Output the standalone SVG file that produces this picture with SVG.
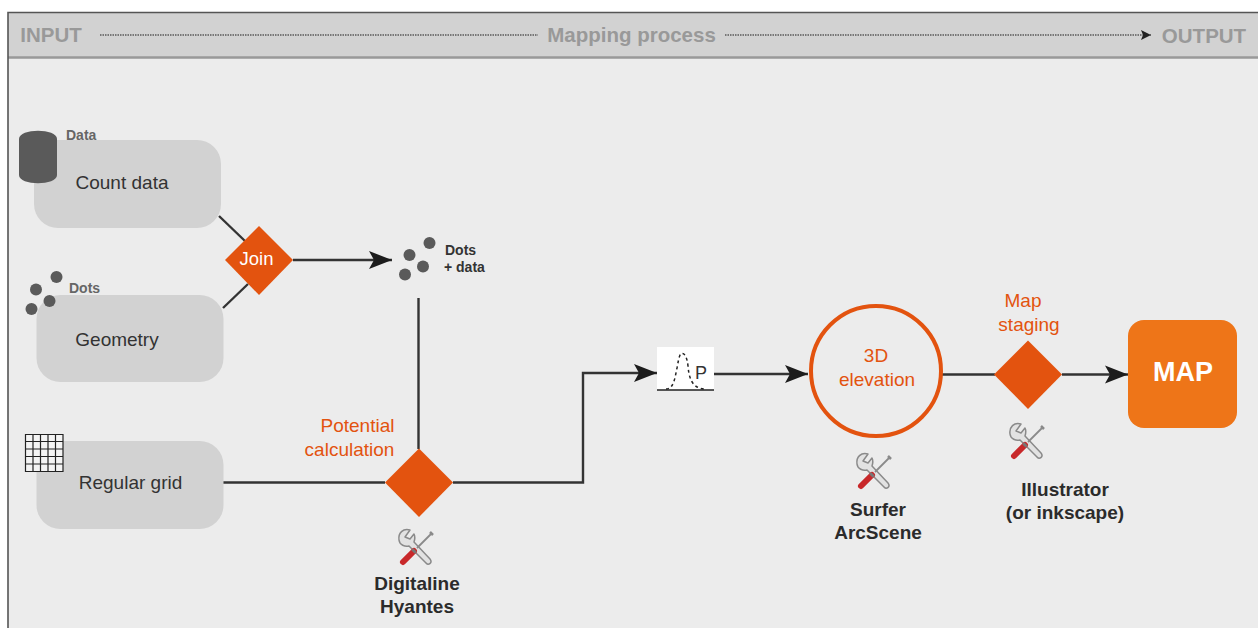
<svg xmlns="http://www.w3.org/2000/svg" width="1258" height="628" viewBox="0 0 1258 628">
<style>
text{font-family:"Liberation Sans",Arial,sans-serif}
.box{fill:#d2d2d2}
.lbl{font-size:19px;fill:#333;text-anchor:middle}
.hdr{font-size:20.500px;font-weight:bold;fill:#999;text-anchor:middle}
.or{font-size:19px;fill:#e3530f;text-anchor:middle}
.tool{font-size:19px;font-weight:bold;fill:#2b2b2b;text-anchor:middle}
.small{font-size:14px;font-weight:bold;fill:#666}
.dark{fill:#333}
.dia{fill:#e3530f}
.c{fill:none;stroke:#333;stroke-width:2.4}
.dot{fill:#5a5a5a}
.dash{fill:none;stroke:#777;stroke-width:2;stroke-dasharray:1.5 1}
</style>
<defs>
<marker id="a" markerUnits="userSpaceOnUse" markerWidth="26" markerHeight="22" refX="24" refY="11" orient="auto"><path d="M1 2L24 11L1 20L6 11Z" fill="#1c1c1c"/></marker>
<marker id="s" markerUnits="userSpaceOnUse" markerWidth="12" markerHeight="12" refX="11" refY="6" orient="auto"><path d="M1 1L11 6L1 11L3 6Z" fill="#222"/></marker>
<g id="tool">
<path d="M-6 -18C-13 -20 -18 -15 -17 -8C-16.500 -3 -11 -1 -7 -2L10 15C12 18 17 15 14 11L-2 -6C-1 -9 -1 -12 -2 -14L-6 -9L-11 -11Z" fill="#e2e2e2" stroke="#8a8a8a" stroke-width="1.500" stroke-linejoin="round"/>
<path d="M16 -15L1 0" stroke="#8a8a8a" stroke-width="1.800" fill="none"/>
<path d="M14 -16L17 -13" stroke="#8a8a8a" stroke-width="2.500" fill="none"/>
<path d="M-2 3L-13 14" stroke="#c8282a" stroke-width="6" stroke-linecap="round" fill="none"/>
<path d="M-1 2L-3 4" stroke="#777" stroke-width="5" fill="none"/>
</g>
</defs>
<rect width="1258" height="628" fill="#fff"/>
<rect x="8" y="12" width="1252" height="620" fill="#ececec"/>
<rect x="8" y="12" width="1252" height="45" fill="#d2d2d2"/>
<path d="M8 57.500H1258" stroke="#999" stroke-width="2.500"/>
<path d="M1258 12.500H8V628" fill="none" stroke="#555" stroke-width="1.600"/>
<g id="connectors">
<path class="dash" d="M100 35H538"/>
<path class="dash" d="M725 35H1151" marker-end="url(#s)"/>
<path class="c" d="M219 216L245 241"/>
<path class="c" d="M223 308L248 284"/>
<path class="c" d="M293 260H392" marker-end="url(#a)"/>
<path class="c" d="M418.500 298V449"/>
<path class="c" d="M223 482.500H385"/>
<path class="c" d="M453 482.500H583V373H657" marker-end="url(#a)"/>
<path class="c" d="M714 374H808" marker-end="url(#a)"/>
<path class="c" d="M942 374.500H995"/>
<path class="c" d="M1062 374.500H1128" marker-end="url(#a)"/>
</g>
<g id="header">
<text class="hdr" x="51" y="42">INPUT</text>
<text class="hdr" x="631.500" y="42">Mapping process</text>
<text class="hdr" x="1204" y="43">OUTPUT</text>
</g>
<g id="count-data">
<rect class="box" x="34" y="140" width="187" height="88" rx="24"/>
<text class="lbl" x="122" y="189">Count data</text>
<path d="M19 139C19 128 57 128 57 139V175C57 186 19 186 19 175Z" fill="#5a5a5a"/>
<text class="small" x="66" y="140">Data</text>
</g>
<g id="geometry">
<rect class="box" x="36.500" y="295" width="187" height="87" rx="24"/>
<text class="lbl" x="117" y="346">Geometry</text>
<circle class="dot" cx="56.500" cy="277" r="6"/><circle class="dot" cx="36" cy="289.500" r="6"/><circle class="dot" cx="49.500" cy="301" r="6"/><circle class="dot" cx="31.500" cy="309" r="6"/>
<text class="small" x="69" y="293">Dots</text>
</g>
<g id="regular-grid">
<rect class="box" x="36.500" y="441" width="187" height="88" rx="24"/>
<text class="lbl" x="130.500" y="489">Regular grid</text>
<path d="M25.500 434.500H63V471.500H25.500ZM25.500 441.500H63M25.500 449H63M25.500 456.500H63M25.500 464H63M33 434.500V471.500M40.500 434.500V471.500M48 434.500V471.500M55.500 434.500V471.500" fill="#f4f4f4" stroke="#222" stroke-width="1.200"/>
</g>
<g id="join">
<path class="dia" d="M259 226L293 260L259 295L225 260Z"/>
<text x="256.500" y="265" font-size="18.500" fill="#fff" text-anchor="middle">Join</text>
</g>
<g id="dots-data">
<circle class="dot" cx="429.500" cy="243" r="6"/><circle class="dot" cx="409.500" cy="255" r="6"/><circle class="dot" cx="423" cy="266.500" r="6"/><circle class="dot" cx="405" cy="274.500" r="6"/>
<text class="small dark" x="445" y="255">Dots</text>
<text class="small dark" x="444" y="272">+ data</text>
</g>
<g id="potential">
<path class="dia" d="M419 448.500L453 482.500L419 517L385 482.500Z"/>
<text class="or" x="357.500" y="432">Potential</text>
<text class="or" x="349.500" y="456">calculation</text>
<use href="#tool" x="416" y="548"/>
<text class="tool" x="417" y="590">Digitaline</text>
<text class="tool" x="417" y="613">Hyantes</text>
</g>
<g id="gauss">
<rect x="657" y="347" width="57" height="43" fill="#fff"/>
<path d="M657 390H714" stroke="#222" stroke-width="1.500"/>
<path d="M666 389C674 389 675 377 677 368C679 357 680 353 682 353.500C684 353 687 356 688 366C689 378 692 388 704 389" fill="none" stroke="#222" stroke-width="1.500" stroke-dasharray="3 3"/>
<text x="701" y="379" font-size="18" fill="#333" text-anchor="middle">P</text>
</g>
<g id="elevation">
<circle cx="876" cy="371" r="65" fill="none" stroke="#e3530f" stroke-width="4"/>
<text class="or" x="876" y="362">3D</text>
<text class="or" x="877" y="386">elevation</text>
<use href="#tool" x="874" y="472"/>
<text class="tool" x="878" y="516">Surfer</text>
<text class="tool" x="878" y="539">ArcScene</text>
</g>
<g id="map-staging">
<path class="dia" d="M1028 340.500L1062 374.500L1028 409L994 374.500Z"/>
<text class="or" x="1023" y="307">Map</text>
<text class="or" x="1029" y="331">staging</text>
<use href="#tool" x="1027" y="442"/>
<text class="tool" x="1065" y="496">Illustrator</text>
<text class="tool" x="1065" y="519">(or inkscape)</text>
</g>
<g id="map">
<rect x="1128" y="320" width="109" height="108" rx="16" fill="#ee7518"/>
<text x="1183" y="381" font-size="27" font-weight="bold" fill="#fff" text-anchor="middle">MAP</text>
</g>
</svg>
